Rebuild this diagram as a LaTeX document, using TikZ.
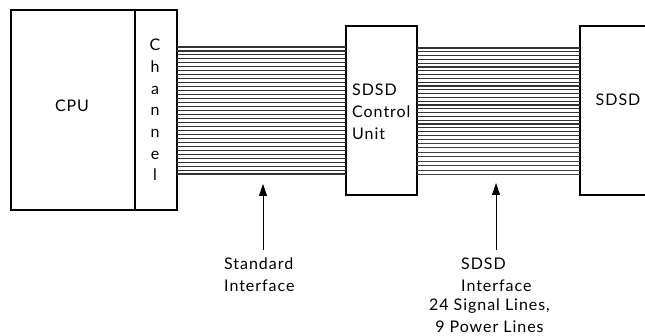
\documentclass[tikz,border=0pt]{standalone}
\usepackage{fontspec}
\setmainfont{Lato}[LetterSpace=6]
\usetikzlibrary{arrows.meta}
\tikzset{
  unit/.style={draw,line width=1.4pt,inner sep=0pt,outer sep=0pt,anchor=north west},
  lbl/.style={font=\fontsize{16}{21.7}\selectfont,align=left,inner sep=0pt},
  wire/.style={line width=1.1pt,black!80},
  pwire/.style={line width=0.8pt,black!75},
  pointer/.style={line width=0.8pt,-{Triangle[length=12pt,width=8pt]}}
}
\begin{document}
\begin{tikzpicture}[x=1pt,y=-1pt]
\useasboundingbox (0,0) rectangle (645,336);
\node[unit,minimum width=124pt,minimum height=200pt] (cpu) at (11,10) {};
\node[unit,minimum width=42pt,minimum height=200pt] (chan) at (135,10) {};
\node[unit,minimum width=71pt,minimum height=169pt] (cu) at (346,26) {};
\coordinate (sdsdtr) at (645,26);
\coordinate (sdsdbr) at (645,195);
\coordinate (sdsdtl) at (580,26);
\coordinate (sdsdbl) at (580,195);
\draw[line width=1.4pt] (sdsdtr) -- (sdsdtl) -- (sdsdbl) -- (sdsdbr);
\node[lbl,anchor=north] (cputxt) at (72,100) {CPU};
\node[lbl,align=center,anchor=north] (chantxt) at (155,39) {C\\h\\a\\n\\n\\e\\l};
\node[lbl,anchor=north west] (cutxt) at (352,84) {SDSD\\Control\\Unit};
\node[lbl,anchor=north] (sdsdtxt) at (618,94) {SDSD};
% standard interface: 33 lines
\foreach \i in {0,...,32}{
  \pgfmathsetmacro{\yy}{47+\i*3.97}
  \draw[wire] (chan.east |- 0,\yy) -- (cu.west |- 0,\yy);
}
% SDSD interface: 24 signal lines, 9 power lines
\foreach \i in {0,...,23}{
  \pgfmathsetmacro{\yy}{48+\i*3.8}
  \draw[wire] (cu.east |- 0,\yy) -- (sdsdtl |- 0,\yy);
}
\foreach \i in {0,...,8}{
  \pgfmathsetmacro{\yy}{139+\i*4.45}
  \draw[pwire] (cu.east |- 0,\yy) -- (sdsdtl |- 0,\yy);
}
\node[lbl,anchor=north west] (std) at (224,258) {Standard\\Interface};
\node[lbl,anchor=north west] (sif) at (461,258) {SDSD\\Interface};
\node[lbl,anchor=north,align=center] (sigl) at (489.5,299) {24 Signal Lines,\\9 Power Lines};
\coordinate (a1) at (263,184);
\coordinate (a2) at (496,183);
\draw[pointer] (263,250) -- (a1);
\draw[pointer] (496,250) -- (a2);
\end{tikzpicture}
\end{document}
